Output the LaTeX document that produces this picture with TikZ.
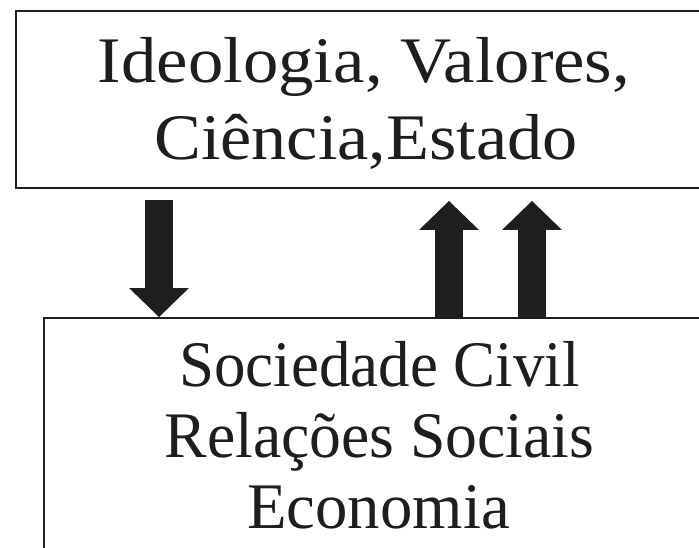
\documentclass[tikz,border=0pt]{standalone}
\usepackage{fontspec}
\usepackage{graphicx}
\setmainfont[FakeStretch=1.03]{Liberation Serif}
\usetikzlibrary{arrows.meta}
\definecolor{ink}{HTML}{1E1E1E}
\tikzset{
  box/.style={draw=ink, line width=2pt, fill=none, inner sep=0pt, outer sep=0pt},
  txt/.style={text=ink, inner sep=0pt, font=\fontsize{65}{65}\selectfont},
  blockarrow/.style={draw=ink, line width=28pt,
    -{Triangle[width=60pt,length=29pt,line width=0pt]}}
}
\newcommand{\hstretch}[2]{\scalebox{#1}[1]{#2}}
\begin{document}
\begin{tikzpicture}[x=1pt,y=-1pt]
\useasboundingbox (0,0) rectangle (699,548);
\clip (0,0) rectangle (699,548);
\fill[white] (0,0) rectangle (699,548);
\node[box, anchor=north west, minimum width=720pt, minimum height=177pt] (top) at (16,11) {};
\node[box, anchor=north west, minimum width=700pt, minimum height=260pt] (bot) at (44,318) {};
\node[txt, anchor=base] (t1) at (364,83) {\hstretch{1.056}{Ideologia, Valores,}};
\node[txt, anchor=base] (t2) at (366,160) {\hstretch{1.05}{Ciência,Estado}};
\node[txt, anchor=base] (b1) at (379.5,386) {\hstretch{0.94}{Sociedade Civil}};
\node[txt, anchor=base] (b2) at (379.5,457) {\hstretch{0.951}{Relações Sociais}};
\node[txt, anchor=base] (b3) at (378.5,528) {\hstretch{0.967}{Economia}};
\coordinate (d) at (159,0);
\coordinate (u1) at (449,0);
\coordinate (u2) at (532,0);
\draw[blockarrow] ([yshift=-12pt]top.south -| d) -- ([yshift=1pt]bot.north -| d);
\draw[blockarrow] (bot.north -| u1) -- ([yshift=-13pt]top.south -| u1);
\draw[blockarrow] (bot.north -| u2) -- ([yshift=-13pt]top.south -| u2);
\end{tikzpicture}
\end{document}
